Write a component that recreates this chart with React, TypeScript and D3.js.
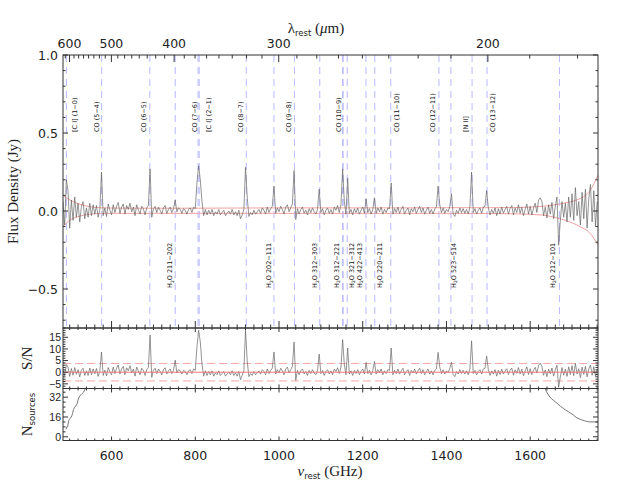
import React from 'react';
import * as d3 from 'd3';

// channel grid of the stacked spectrum (rest frame, GHz)
const FREQ_START = 484;
const FREQ_STEP = 4;
const C_UM_GHZ = 299792.458; // lambda[um] = c / nu[GHz]

// stacked flux density per channel, mJy
const fluxMJy = [
  60, -90, 200, 130, -110, 70, -60, 90, -40, 50, -70, 30, 60, -50, 20, -40, 50, -30, 40, -20,
  35, -40, 10, 250, -30, 20, -35, 45, 5, -25, 40, -10, 30, 55, -15, 25, 45, -20, 35, 10,
  50, -5, 25, -30, 40, 10, -20, 30, 15, -25, 20, 35, 270, -40, 15, 30, -10, 25, 5, -20,
  20, 35, -15, 10, 25, -10, 15, 70, -5, 20, 10, -15, 15, 5, -20, 10, 20, -10, 25, 15,
  180, 290, 200, 60, -30, 10, -25, 5, -20, 10, -30, -5, -20, 10, -25, -10, 5, -30, -15, 0,
  -20, 10, -25, -5, -30, 5, -50, -25, 10, 280, 90, -35, -10, -25, 5, -20, -5, 10, -15, 20,
  5, -20, 25, -10, 15, 30, 160, -15, 20, -5, 30, 10, -20, 25, 40, -5, 20, 45, 260, -55,
  15, -20, 10, 25, -15, 5, -25, 15, -10, 20, -5, -20, 10, 140, -10, 15, -25, 5, 20, -15,
  10, -20, 25, 5, 35, -10, 40, 270, 60, -20, 210, -15, 10, -25, 15, -10, 20, -20, 5, 25,
  -15, 80, -10, 15, -20, 10, 85, -15, 20, -5, 25, -20, 10, -10, 20, 15, 180, -20, 15, -10,
  25, -15, 10, 30, -20, 5, 20, -25, 15, -5, 25, -15, 10, 30, -10, 20, -20, 5, 25, -15,
  10, -20, 15, 25, 160, 40, -10, 20, -15, 10, -5, 30, 110, -20, -35, 5, -15, 20, -10, 15,
  -15, 10, -20, 25, 250, -10, 15, -20, 5, 20, -15, 25, 30, 130, 20, -25, 10, -15, 20, -30,
  15, -20, 25, -15, 10, 30, -20, 15, 35, -25, 20, -10, 40, -15, 25, -30, 10, 45, -20, 30,
  -25, 20, 50, -10, 70, 85, 60, -30, 25, -45, 40, -20, 55, -50, 30, 90, -220, -60, 60, -40,
  50, -70, 90, -40, 110, -60, 150, -30, 60, -90, 120, -50, 140, -110, 80, 170, -70, 130, -100, 60,
];

// signal to noise per channel
const snr = [
  1.0, -1.5, 3.3, 2.2, -1.8, 1.6, -1.3, 2.0, -0.9, 1.1, -2.0, 0.9, 1.7, -1.4, 0.6, -1.4, 1.8, -1.1, 1.4, -0.7,
  1.6, -1.8, 0.5, 8.7, -1.4, 0.9, -1.6, 2.0, 0.2, -1.1, 2.2, -0.6, 1.7, 3.1, -0.8, 1.4, 2.5, -1.1, 1.9, 0.6,
  2.8, -0.3, 1.4, -1.7, 2.2, 0.6, -1.1, 1.7, 0.8, -1.4, 1.1, 1.9, 16.0, -2.2, 0.8, 1.7, -0.6, 1.4, 0.3, -1.1,
  1.1, 1.9, -0.8, 0.6, 1.4, -0.6, 0.8, 5.2, -0.3, 1.1, 0.6, -0.8, 0.8, 0.3, -1.1, 0.6, 1.1, -0.6, 1.4, 0.8,
  11.0, 18.0, 13.0, 3.5, -1.7, 0.6, -1.4, 0.3, -1.1, 0.6, -1.7, -0.3, -1.1, 0.6, -1.4, -0.6, 0.3, -1.7, -0.8, 0.0,
  -1.1, 0.6, -1.4, -0.3, -1.7, 0.3, -3.2, -1.4, 0.6, 18.0, 5.0, -1.9, -0.6, -1.4, 0.3, -1.1, -0.3, 0.6, -0.8, 1.1,
  0.3, -1.1, 1.4, -0.6, 0.8, 1.7, 8.7, -0.8, 1.1, -0.3, 1.7, 0.6, -1.1, 1.4, 2.2, -0.3, 1.1, 2.5, 13.0, -3.5,
  0.8, -1.1, 0.6, 1.4, -0.8, 0.3, -1.4, 0.8, -0.6, 1.1, -0.3, -1.1, 0.6, 7.8, -0.6, 0.8, -1.4, 0.3, 1.1, -0.8,
  0.6, -1.1, 1.4, 0.3, 1.9, -0.6, 2.2, 14.0, 3.3, -1.1, 10.4, -0.8, 0.6, -1.4, 0.8, -0.6, 1.1, -1.1, 0.3, 1.4,
  -0.8, 4.2, -0.6, 0.8, -1.1, 0.6, 4.6, -0.8, 1.1, -0.3, 1.4, -1.1, 0.6, -0.6, 1.1, 0.8, 10.4, -1.1, 0.8, -0.6,
  1.4, -0.8, 0.6, 1.7, -1.1, 0.3, 1.1, -1.4, 0.8, -0.3, 1.4, -0.8, 0.6, 1.7, -0.6, 1.1, -1.1, 0.3, 1.4, -0.8,
  0.6, -1.1, 0.8, 1.4, 8.5, 2.2, -0.6, 1.1, -0.8, 0.6, -0.3, 1.7, 4.3, -1.1, -1.9, 0.3, -0.8, 1.1, -0.6, 0.8,
  -0.8, 0.6, -1.1, 1.4, 13.5, -0.6, 0.8, -1.1, 0.3, 1.1, -0.8, 1.4, 1.7, 7.0, 1.1, -1.4, 0.6, -0.8, 1.1, -1.7,
  0.8, -1.0, 1.3, -0.8, 0.5, 1.5, -1.0, 0.8, 1.8, -1.3, 1.0, -0.5, 2.0, -0.8, 1.3, -1.5, 0.5, 2.3, -1.0, 1.5,
  -1.0, 0.8, 2.1, -0.4, 2.9, 3.9, 2.5, -1.3, 1.0, -1.9, 1.3, -0.7, 1.8, -1.7, 1.0, 3.0, -6.5, -2.0, 2.0, -1.3,
  1.3, -1.8, 2.3, -1.0, 2.8, -1.5, 3.8, -0.8, 1.5, -2.3, 2.2, -0.9, 2.5, -2.0, 1.5, 3.1, -1.3, 2.4, -1.8, 1.1,
];

// red noise envelope in the flux panel (Jy)
const envFreq = [484, 501, 525, 548, 572, 600, 650, 700, 800, 900, 1000, 1100, 1200, 1300, 1400, 1500, 1560, 1630, 1660, 1690, 1719, 1743, 1762];
const envUpper = [0.10, 0.07, 0.043, 0.028, 0.021, 0.019, 0.018, 0.018, 0.018, 0.019, 0.02, 0.02, 0.02, 0.02, 0.021, 0.021, 0.022, 0.03, 0.04, 0.055, 0.08, 0.13, 0.23];
const envLower = [-0.10, -0.058, -0.032, -0.021, -0.016, -0.015, -0.015, -0.015, -0.015, -0.015, -0.015, -0.015, -0.015, -0.015, -0.015, -0.016, -0.018, -0.026, -0.042, -0.065, -0.10, -0.143, -0.218];

// sources contributing to the stack
const nFreq = [491, 493, 495, 497, 499, 502, 505, 507, 509, 512, 515, 518, 521, 524, 527, 530, 533, 536, 540, 1630, 1639, 1645, 1650, 1655, 1661, 1667, 1673, 1679, 1685, 1691, 1697, 1703, 1707, 1711, 1717, 1723, 1729, 1735, 1741, 1762];
const nSources = [6, 8, 8, 12, 14, 15, 17, 19, 22, 24, 25, 27, 31, 33, 34, 35, 36, 38, 44, 44, 36.3, 33, 31, 29.6, 28, 26.2, 24.5, 23, 21.5, 20.3, 19, 17.7, 16.5, 15.5, 14.5, 13.7, 13, 12.5, 12, 12];

// lines labelled above the spectrum
const topLineNames = ['[C I] (1\u22120)', 'CO (5\u22124)', 'CO (6\u22125)', 'CO (7\u22126)', '[C I] (2\u22121)', 'CO (8\u22127)', 'CO (9\u22128)', 'CO (10\u22129)', 'CO (11\u221210)', 'CO (12\u221211)', '[N II]', 'CO (13\u221212)'];
const topLineFreq = [492.16, 576.27, 691.47, 806.65, 809.34, 921.80, 1036.91, 1151.99, 1267.01, 1381.99, 1461.13, 1496.92];
// water lines labelled below
const h2oTransitions = ['211\u2212202', '202\u2212111', '312\u2212303', '312\u2212221', '321\u2212312', '422\u2212413', '220\u2212211', '523\u2212514', '212\u2212101'];
const h2oFreq = [752.03, 987.93, 1097.36, 1153.13, 1162.91, 1207.64, 1228.79, 1410.62, 1669.90];

// label nudges, px (layout only)
const topLabelDx = [9, -5, -6, -3, 10, -5, -5, -4, 6, -6, -6, 6];
const h2oLabelDx = [-5, -4.5, -4.5, -6.5, 4.5, -6, 5, 3, -6.5];

const freqMajor = [600, 800, 1000, 1200, 1400, 1600];
const lamMajor = [600, 500, 400, 300, 200];
const fluxMajor = [-0.5, 0, 0.5, 1.0];
const snMajor = [-5, 0, 5, 10, 15];
const nMajor = [0, 16, 32];

const L = 63, R = 598;
const P1 = { t: 55, b: 328 };
const P2 = { t: 328, b: 388.5 };
const P3 = { t: 388.5, b: 440.5 };
const AX = '#333';
const TICK_FONT = 'DejaVu Sans';
const SERIF = 'Liberation Serif';

const fmt = (v: number, dec: number) => (v < 0 ? '\u2212' : '') + Math.abs(v).toFixed(dec);

export default function App() {
  const x = d3.scaleLinear().domain([484, 1762]).range([L, R]);
  const yF = d3.scaleLinear().domain([-0.75, 1.0]).range([P1.b, P1.t]);
  const yS = d3.scaleLinear().domain([-7, 19]).range([P2.b, P2.t]);
  const yN = d3.scaleLinear().domain([-3, 39]).range([P3.b, P3.t]);

  const freq = fluxMJy.map((_, i) => FREQ_START + i * FREQ_STEP);
  const fluxPath = d3.line<number>().x((_, i) => x(freq[i])).y(d => yF(d / 1000))(fluxMJy) || '';
  const snPath = d3.line<number>().x((_, i) => x(freq[i])).y(d => yS(d))(snr) || '';
  const upPath = d3.line<number>().curve(d3.curveMonotoneX).x((_, i) => x(envFreq[i])).y(d => yF(d))(envUpper) || '';
  const loPath = d3.line<number>().curve(d3.curveMonotoneX).x((_, i) => x(envFreq[i])).y(d => yF(d))(envLower) || '';
  const nPath = d3.line<number>().x((_, i) => x(nFreq[i])).y(d => yN(d))(nSources) || '';

  const freqMinor = d3.range(500, 1762, 20);
  const lamMinor = d3.range(175, 625, 12.5).filter(l => {
    const f = C_UM_GHZ / l;
    return f >= 484 && f <= 1762;
  });

  // x ticks on the top and bottom edge of a panel
  const xTicks = (p: { t: number; b: number }, maj: number, min: number, bottom = true, top = true) =>
    freqMinor.map(f => {
      const len = f % 200 === 0 ? maj : min;
      const px = x(f);
      return (
        <g key={`${p.t}-${f}`}>
          {bottom && <line x1={px} x2={px} y1={p.b} y2={p.b - len} stroke={AX} />}
          {top && <line x1={px} x2={px} y1={p.t} y2={p.t + len} stroke={AX} />}
        </g>
      );
    });

  const yTicks = (scale: d3.ScaleLinear<number, number>, minor: number[], major: number[], key: string) =>
    minor.map(v => {
      const isMaj = major.some(m => Math.abs(m - v) < 1e-6);
      const len = isMaj ? 5 : 2.5;
      const py = scale(v);
      return (
        <g key={`${key}${v}`}>
          <line x1={L} x2={L + len} y1={py} y2={py} stroke={AX} />
          <line x1={R} x2={R - len} y1={py} y2={py} stroke={AX} />
        </g>
      );
    });

  const allLines = [...topLineFreq, ...h2oFreq];

  return (
    <svg width={630} height={490} style={{ position: 'absolute', left: 0, top: 0, background: '#fff' }}>
      <defs>
        <clipPath id="c1"><rect x={L} y={P1.t} width={R - L} height={P1.b - P1.t} /></clipPath>
        <clipPath id="c2"><rect x={L} y={P2.t} width={R - L} height={P2.b - P2.t} /></clipPath>
        <clipPath id="c3"><rect x={L} y={P3.t} width={R - L} height={P3.b - P3.t} /></clipPath>
      </defs>

      {/* line markers */}
      <g clipPath="url(#c1)">
        {allLines.map((f, i) => (
          <line key={`bl${i}`} x1={x(f)} x2={x(f)} y1={P1.t} y2={P1.b} stroke="#b9b9ff" strokeWidth={1} strokeDasharray="7,5" />
        ))}
        <path d={upPath} fill="none" stroke="#f3a0a0" strokeWidth={1} />
        <path d={loPath} fill="none" stroke="#f3a0a0" strokeWidth={1} />
        <path d={fluxPath} fill="none" stroke="#666" strokeWidth={0.7} />
      </g>

      {/* labels above */}
      {topLineNames.map((name, i) => (
        <text key={`tl${i}`} transform={`translate(${x(topLineFreq[i]) + topLabelDx[i]},132) rotate(-90)`}
          fontFamily={TICK_FONT} fontSize={6.5} dominantBaseline="central" fill="#111">{name}</text>
      ))}
      {/* water labels below */}
      {h2oTransitions.map((tr, i) => (
        <text key={`wl${i}`} transform={`translate(${x(h2oFreq[i]) + h2oLabelDx[i]},288) rotate(-90)`}
          fontFamily={TICK_FONT} fontSize={6.5} dominantBaseline="central" fill="#111">
          H<tspan fontSize={4.5} dy={1.5}>2</tspan><tspan dy={-1.5}>O {tr}</tspan>
        </text>
      ))}

      {/* S/N panel */}
      <g clipPath="url(#c2)">
        <line x1={L} x2={R} y1={yS(3.75)} y2={yS(3.75)} stroke="#f5a8a8" strokeDasharray="8,4" />
        <line x1={L} x2={R} y1={yS(-3.75)} y2={yS(-3.75)} stroke="#f5a8a8" strokeDasharray="8,4" />
        <path d={snPath} fill="none" stroke="#666" strokeWidth={0.7} />
        <line x1={L} x2={R} y1={yS(0)} y2={yS(0)} stroke="#ee7777" strokeWidth={1} />
      </g>

      {/* number of sources */}
      <g clipPath="url(#c3)">
        <path d={nPath} fill="none" stroke="#777" strokeWidth={1} />
      </g>

      {/* frames */}
      {[P1, P2, P3].map((p, i) => (
        <rect key={`f${i}`} x={L} y={p.t} width={R - L} height={p.b - p.t} fill="none" stroke={AX} strokeWidth={1} />
      ))}

      {/* x ticks */}
      {xTicks(P1, 7, 3.5, true, false)}
      {xTicks(P2, 4, 2)}
      {xTicks(P3, 4, 2)}
      {lamMinor.map(l => {
        const isMaj = lamMajor.includes(l);
        const px = x(C_UM_GHZ / l);
        return <line key={`lt${l}`} x1={px} x2={px} y1={P1.t} y2={P1.t + (isMaj ? 7 : 3.5)} stroke={AX} />;
      })}

      {/* y ticks */}
      {yTicks(yF, d3.range(-7, 11).map(v => v / 10), fluxMajor, 'f')}
      {yTicks(yS, d3.range(-7, 20), snMajor, 's')}
      {yTicks(yN, d3.range(0, 39, 4), nMajor, 'n')}

      {/* tick labels */}
      <g fontFamily={TICK_FONT} fontSize={12.5} fill="#222">
        {freqMajor.map(f => (
          <text key={`fl${f}`} x={x(f)} y={460} textAnchor="middle">{f}</text>
        ))}
        {lamMajor.map(l => (
          <text key={`ll${l}`} x={x(C_UM_GHZ / l)} y={48} textAnchor="middle">{l}</text>
        ))}
        {fluxMajor.map(v => (
          <text key={`yl${v}`} x={58} y={yF(v) + 4.5} textAnchor="end">{fmt(v, 1)}</text>
        ))}
      </g>
      <g fontFamily="Liberation Sans" fontSize={10.5} fill="#222">
        {snMajor.map(v => (
          <text key={`sl${v}`} x={61} y={yS(v) + 3.8} textAnchor="end">{fmt(v, 0)}</text>
        ))}
        {nMajor.map(v => (
          <text key={`nl${v}`} x={61} y={yN(v) + 3.8} textAnchor="end">{v}</text>
        ))}
      </g>

      {/* axis titles */}
      <g fontFamily={SERIF} fontSize={15} fill="#222">
        <text transform={`translate(18,${(P1.t + P1.b) / 2}) rotate(-90)`} textAnchor="middle">Flux Density (Jy)</text>
        <text transform={`translate(32,${(P2.t + P2.b) / 2}) rotate(-90)`} textAnchor="middle">S/N</text>
        <text transform={`translate(32,${(P3.t + P3.b) / 2}) rotate(-90)`} textAnchor="middle">
          N<tspan fontFamily={TICK_FONT} fontSize={8.5} dy={3}>sources</tspan>
        </text>
        <text x={316} y={33} textAnchor="middle">
          {'\u03bb'}<tspan fontFamily={TICK_FONT} fontSize={8.5} dy={3}>rest</tspan>
          <tspan dy={-3}> (</tspan><tspan fontStyle="italic">{'\u03bc'}</tspan>m)
        </text>
        <text x={330} y={476} textAnchor="middle">
          <tspan fontStyle="italic">{'\u03bd'}</tspan><tspan fontFamily={TICK_FONT} fontSize={8.5} dy={3}>rest</tspan>
          <tspan dy={-3}> (GHz)</tspan>
        </text>
      </g>
    </svg>
  );
}
